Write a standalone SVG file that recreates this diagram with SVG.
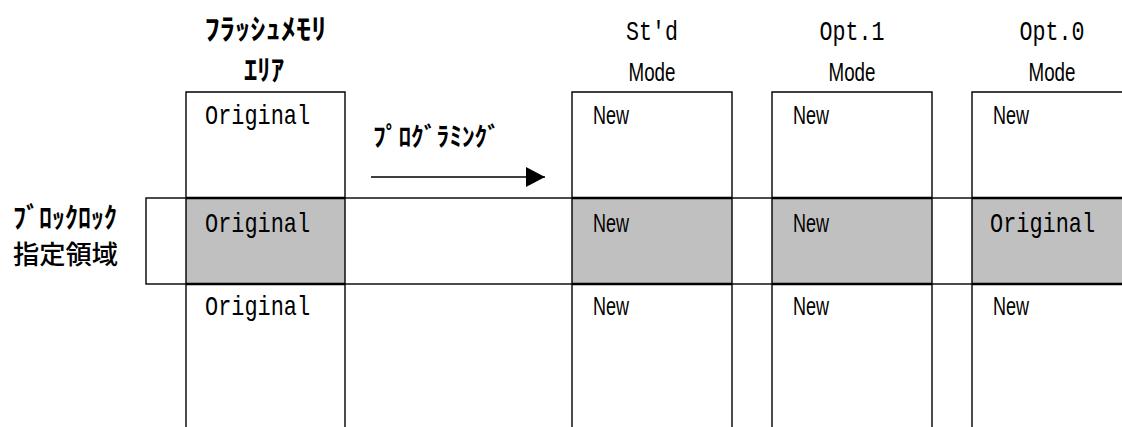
<svg xmlns="http://www.w3.org/2000/svg" width="1122" height="427" viewBox="0 0 1122 427">
<defs>
<style>
.ln{fill:none;stroke:#000;stroke-width:1.4}
.thk{stroke:#000;stroke-width:2.4}
.gray{fill:#c0c0c0;stroke:none}
.jp{font-family:"Noto Sans CJK JP",sans-serif;font-weight:700;fill:#000}
.jpn{font-family:"Noto Sans CJK JP",sans-serif;font-weight:500;fill:#000}
.mono{font-family:"Liberation Mono",monospace;font-size:28px;fill:#000}
.sans{font-family:"Liberation Sans",Arial,sans-serif;font-size:26px;fill:#000}
</style>
<marker id="ah" markerWidth="20" markerHeight="20" refX="19" refY="10" orient="auto" markerUnits="userSpaceOnUse">
<path d="M0,0 L19,10 L0,20 Z" fill="#000"/>
</marker>
</defs>
<rect width="1122" height="427" fill="#fff"/>

<g id="band">
<rect x="146" y="198" width="1000" height="86" class="ln" fill="#fff"/>
<text class="jp" x="13" y="228" font-size="28" textLength="104" lengthAdjust="spacingAndGlyphs">ﾌﾞﾛｯｸﾛｯｸ</text>
<text class="jpn" x="13" y="264" font-size="26" textLength="105" lengthAdjust="spacingAndGlyphs">指定領域</text>
</g>

<g id="flash">
<rect class="gray" x="186" y="198" width="159" height="86"/>
<path class="ln" d="M186,430 V92 H345 V430"/>
<line class="thk" x1="186" y1="198" x2="345" y2="198"/>
<line class="thk" x1="186" y1="284" x2="345" y2="284"/>
<text class="jp" x="265.5" y="40" font-size="29" text-anchor="middle" textLength="122" lengthAdjust="spacingAndGlyphs">ﾌﾗｯｼｭﾒﾓﾘ</text>
<text class="jp" x="264" y="81" font-size="29" text-anchor="middle" textLength="40" lengthAdjust="spacingAndGlyphs">ｴﾘｱ</text>
<text class="mono" x="205" y="124" textLength="105" lengthAdjust="spacingAndGlyphs">Original</text>
<text class="mono" x="205" y="232" textLength="105" lengthAdjust="spacingAndGlyphs">Original</text>
<text class="mono" x="205" y="315" textLength="105" lengthAdjust="spacingAndGlyphs">Original</text>
</g>

<g id="std">
<rect class="gray" x="572" y="198" width="160" height="86"/>
<path class="ln" d="M572,430 V92 H732 V430"/>
<line class="thk" x1="572" y1="198" x2="732" y2="198"/>
<line class="thk" x1="572" y1="284" x2="732" y2="284"/>
<text class="mono" x="652" y="40" text-anchor="middle" textLength="52" lengthAdjust="spacingAndGlyphs">St'd</text>
<text class="sans" x="652" y="81" text-anchor="middle" textLength="47" lengthAdjust="spacingAndGlyphs">Mode</text>
<text class="sans" x="593" y="124" textLength="36" lengthAdjust="spacingAndGlyphs">New</text>
<text class="sans" x="593" y="232" textLength="36" lengthAdjust="spacingAndGlyphs">New</text>
<text class="sans" x="593" y="315" textLength="36" lengthAdjust="spacingAndGlyphs">New</text>
</g>

<g id="opt1">
<rect class="gray" x="772" y="198" width="160" height="86"/>
<path class="ln" d="M772,430 V92 H932 V430"/>
<line class="thk" x1="772" y1="198" x2="932" y2="198"/>
<line class="thk" x1="772" y1="284" x2="932" y2="284"/>
<text class="mono" x="852" y="40" text-anchor="middle" textLength="65" lengthAdjust="spacingAndGlyphs">Opt.1</text>
<text class="sans" x="852" y="81" text-anchor="middle" textLength="47" lengthAdjust="spacingAndGlyphs">Mode</text>
<text class="sans" x="793" y="124" textLength="36" lengthAdjust="spacingAndGlyphs">New</text>
<text class="sans" x="793" y="232" textLength="36" lengthAdjust="spacingAndGlyphs">New</text>
<text class="sans" x="793" y="315" textLength="36" lengthAdjust="spacingAndGlyphs">New</text>
</g>

<g id="opt0">
<rect class="gray" x="972" y="198" width="160" height="86"/>
<path class="ln" d="M972,430 V92 H1140"/>
<line class="thk" x1="972" y1="198" x2="1140" y2="198"/>
<line class="thk" x1="972" y1="284" x2="1140" y2="284"/>
<text class="mono" x="1052" y="40" text-anchor="middle" textLength="65" lengthAdjust="spacingAndGlyphs">Opt.0</text>
<text class="sans" x="1052" y="81" text-anchor="middle" textLength="47" lengthAdjust="spacingAndGlyphs">Mode</text>
<text class="sans" x="993" y="124" textLength="36" lengthAdjust="spacingAndGlyphs">New</text>
<text class="mono" x="990" y="232" textLength="105" lengthAdjust="spacingAndGlyphs">Original</text>
<text class="sans" x="993" y="315" textLength="36" lengthAdjust="spacingAndGlyphs">New</text>
</g>

<g id="connectors">
<line x1="371" y1="177" x2="545" y2="177" stroke="#000" stroke-width="1.6" marker-end="url(#ah)"/>
<text class="jp" x="373" y="146" font-size="26" textLength="127" lengthAdjust="spacingAndGlyphs">ﾌﾟﾛｸﾞﾗﾐﾝｸﾞ</text>
</g>
</svg>
